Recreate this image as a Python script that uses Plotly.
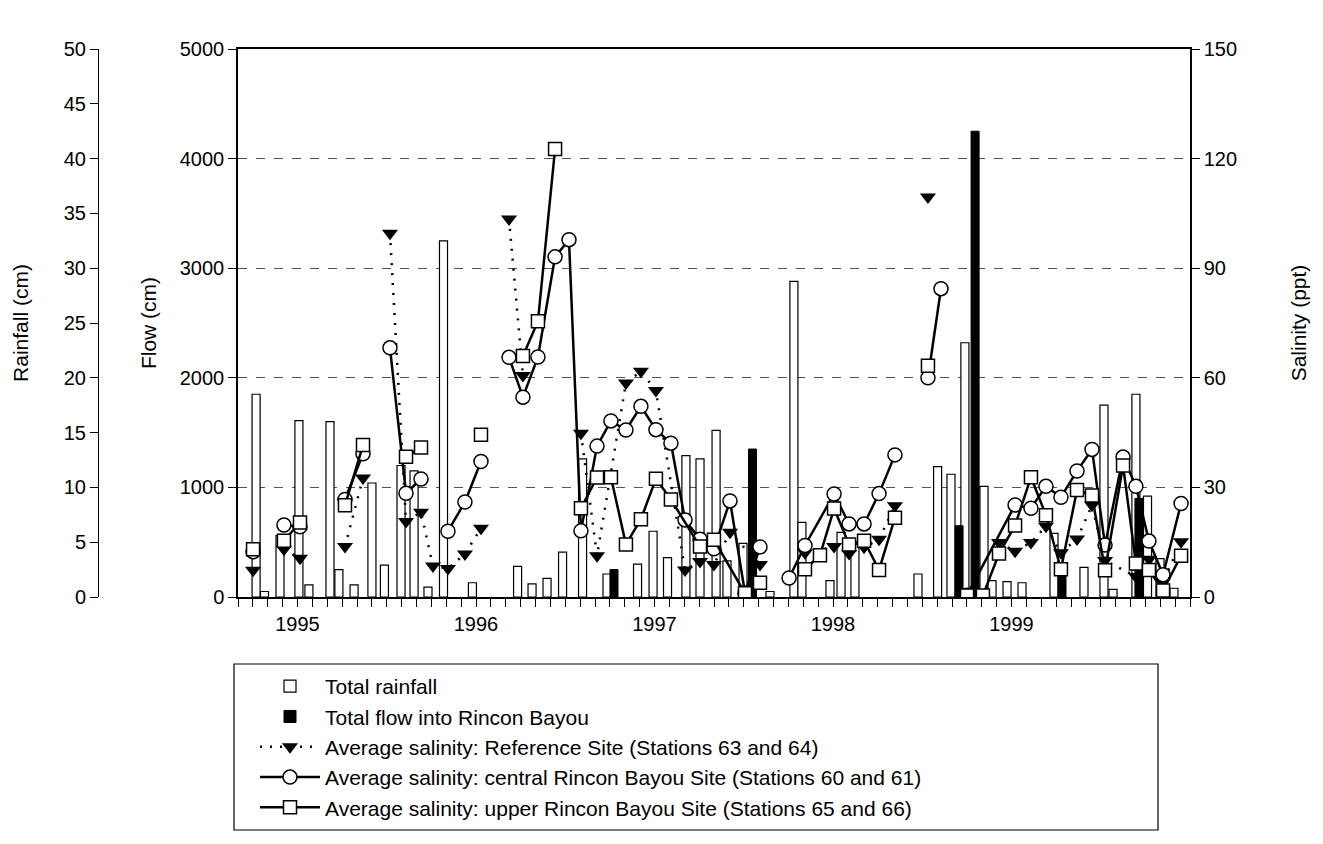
import plotly.graph_objects as go

# ---------------- data (time in decimal years) ----------------
rain_t = [1994.768, 1994.815, 1994.902, 1995.008, 1995.064, 1995.182, 1995.232, 1995.317,
          1995.417, 1995.487, 1995.580, 1995.653, 1995.731, 1995.818, 1995.980, 1996.233,
          1996.314, 1996.398, 1996.485, 1996.597, 1996.734, 1996.905, 1996.992, 1997.073,
          1997.176, 1997.255, 1997.345, 1997.406, 1997.496, 1997.647, 1997.781, 1997.826,
          1997.983, 1998.045, 1998.123, 1998.476, 1998.586, 1998.661, 1998.739, 1998.846,
          1998.891, 1998.975, 1999.059, 1999.238, 1999.406, 1999.518, 1999.569, 1999.697,
          1999.762, 1999.832, 1999.910]
rain_cm = [18.5, 0.5, 5.6, 16.1, 1.1, 16.0, 2.5, 1.1,
           10.4, 2.9, 12.0, 11.5, 0.9, 32.5, 1.3, 2.8,
           1.2, 1.7, 4.1, 12.6, 2.1, 3.0, 6.0, 3.6,
           12.9, 12.6, 15.2, 3.3, 4.9, 0.5, 28.8, 6.8,
           1.5, 5.9, 4.8, 2.1, 11.9, 11.2, 23.2, 10.1,
           1.5, 1.4, 1.3, 5.8, 2.7, 17.5, 0.7, 18.5,
           9.2, 3.5, 0.8]

flow_t = [1996.773, 1997.549, 1998.706, 1998.796, 1999.283, 1999.714]
flow_cm = [250, 1350, 650, 4250, 250, 900]

# Reference site (stations 63 and 64)
ref_t = [1994.751, None, 1994.924, 1995.014, None, 1995.266, 1995.367, None,
         1995.518, 1995.608, 1995.692, 1995.759, 1995.843, 1995.938, 1996.028, None,
         1996.185, 1996.263, None,
         1996.588, 1996.678, 1996.840, 1996.924, 1997.008, 1997.171, 1997.255, 1997.333,
         1997.423, 1997.591, None,
         1997.843, 1998.006, 1998.090, 1998.174, 1998.258, 1998.347, None,
         1998.532, None,
         1998.930, 1999.020, 1999.109, 1999.193, 1999.277, 1999.367, 1999.451, 1999.524,
         1999.697, 1999.770, 1999.849, 1999.950]
ref_sal = [7.3, None, 13.1, 10.6, None, 13.8, 32.6, None,
           99.6, 20.7, 23.2, 8.5, 7.8, 11.8, 18.8, None,
           103.5, 60.6, None,
           44.8, 11.3, 58.6, 61.8, 56.5, 7.4, 9.7, 8.9,
           17.7, 8.9, None,
           12.1, 13.8, 11.9, 13.6, 15.8, 25.0, None,
           109.5, None,
           14.9, 12.5, 14.9, 19.4, 12.1, 15.9, 25.1, 10.0,
           5.6, 10.3, 4.1, 15.1]

# central Rincon Bayou site (stations 60 and 61)
cen_t = [1994.751, None, 1994.924, 1995.014, None, 1995.266, 1995.367, None,
         1995.518, 1995.608, 1995.692, None, 1995.843, 1995.938, 1996.028, None,
         1996.185, 1996.263, 1996.347, 1996.443, 1996.521, 1996.588, 1996.678, 1996.756,
         1996.840, 1996.924, 1997.008, 1997.092, 1997.171, 1997.255, 1997.333, 1997.423,
         1997.507, 1997.591, None,
         1997.754, 1997.843, 1998.006, 1998.090, 1998.174, 1998.258, 1998.347, None,
         1998.532, 1998.605, None,
         1998.751, 1999.020, 1999.109, 1999.193, 1999.277, 1999.367, 1999.451, 1999.524,
         1999.625, 1999.697, 1999.770, 1999.849, 1999.950]
cen_sal = [12.4, None, 19.7, 19.2, None, 26.7, 39.2, None,
           68.2, 28.4, 32.3, None, 18.0, 26.0, 37.1, None,
           65.6, 54.7, 65.7, 93.1, 97.8, 18.1, 41.3, 48.2,
           45.7, 52.2, 45.8, 42.1, 21.1, 15.8, 13.2, 26.3,
           1.1, 13.7, None,
           5.2, 14.1, 28.2, 20.0, 20.0, 28.3, 38.9, None,
           60.0, 84.4, None,
           0.5, 25.2, 24.3, 30.3, 27.3, 34.5, 40.4, 14.2,
           38.3, 30.3, 15.3, 6.1, 25.6]

# upper Rincon Bayou site (stations 65 and 66)
upp_t = [1994.751, None, 1994.924, 1995.014, None, 1995.266, 1995.367, None,
         1995.608, 1995.692, None, 1996.028, None,
         1996.263, 1996.347, 1996.443, None,
         1996.588, 1996.678, 1996.756, 1996.840, 1996.924, 1997.008, 1997.092, 1997.255,
         1997.333, 1997.507, 1997.591, None,
         1997.843, 1997.927, 1998.006, 1998.090, 1998.174, 1998.258, 1998.347, None,
         1998.532, None,
         1998.751, 1998.840, 1998.930, 1999.020, 1999.109, 1999.193, 1999.277, 1999.367,
         1999.451, 1999.524, 1999.625, 1999.697, 1999.770, 1999.849, 1999.950]
upp_sal = [13.1, None, 15.4, 20.4, None, 25.1, 41.6, None,
           38.4, 40.9, None, 44.4, None,
           66.0, 75.5, 122.6, None,
           24.3, 32.7, 32.8, 14.4, 21.3, 32.4, 26.7, 13.8,
           15.7, 1.0, 3.9, None,
           7.6, 11.4, 24.2, 14.4, 15.4, 7.4, 21.7, None,
           63.3, None,
           0.4, 0.4, 11.9, 19.6, 32.8, 22.4, 7.6, 29.3,
           27.8, 7.3, 36.0, 9.2, 7.4, 1.8, 11.3]

year_ticks = [1995, 1996, 1997, 1998, 1999]
year_labels = ["1995", "1996", "1997", "1998", "1999"]

# ---------------- layout geometry (screen px; page body adds 8px) ----------------
W, H = 1323, 844
OFF = 8
FONT = "Liberation Sans, Arial, sans-serif"


def px_x(v):
    return (v - OFF) / W


def px_y(v):
    return 1 - (v - OFF) / H


L, R = 238, 1190          # plot area left/right on screen
TOP, BOT = 49, 597        # plot area top/bottom on screen

fig = go.Figure()

bar_w = 0.045
fig.add_trace(go.Bar(
    x=rain_t, y=rain_cm, width=bar_w, yaxis="y", name="Total rainfall",
    marker=dict(color="white", line=dict(color="black", width=1.2)),
))
fig.add_trace(go.Bar(
    x=flow_t, y=flow_cm, width=bar_w, yaxis="y2", name="Total flow into Rincon Bayou",
    marker=dict(color="black", line=dict(color="black", width=1)),
))
fig.add_trace(go.Scatter(
    x=ref_t, y=ref_sal, yaxis="y3", mode="lines+markers",
    name="Average salinity: Reference Site (Stations 63 and 64)",
    line=dict(color="black", width=2.5, dash="2px,8px"),
    marker=dict(symbol="triangle-down", size=14, color="black"),
))
fig.add_trace(go.Scatter(
    x=cen_t, y=cen_sal, yaxis="y3", mode="lines+markers",
    name="Average salinity: central Rincon Bayou Site (Stations 60 and 61)",
    line=dict(color="black", width=2.5),
    marker=dict(symbol="circle", size=14, color="white", line=dict(color="black", width=1.5)),
))
fig.add_trace(go.Scatter(
    x=upp_t, y=upp_sal, yaxis="y3", mode="lines+markers",
    name="Average salinity: upper Rincon Bayou Site (Stations 65 and 66)",
    line=dict(color="black", width=2.5),
    marker=dict(symbol="square", size=13, color="white", line=dict(color="black", width=1.5)),
))

tickfont = dict(family=FONT, size=20, color="black")
titlefont = dict(family=FONT, size=21, color="black")

fig.update_layout(
    width=W, height=H,
    margin=dict(l=0, r=0, t=0, b=0),
    paper_bgcolor="white", plot_bgcolor="white",
    barmode="overlay",
    font=dict(family=FONT, color="black"),
    xaxis=dict(
        domain=[px_x(L), px_x(R)], range=[1994.6667, 2000.0],
        tickmode="array", tickvals=year_ticks, ticktext=year_labels,
        ticks="outside", ticklen=8, tickwidth=1, tickcolor="black",
        minor=dict(dtick=1/12, tick0=1994.6667, ticks="outside", ticklen=8,
                   tickwidth=1, tickcolor="black", showgrid=False),
        showline=True, linecolor="black", linewidth=1.5, mirror=True,
        showgrid=False, zeroline=False, tickfont=tickfont, automargin=False,
        anchor="y",
    ),
    yaxis=dict(
        domain=[px_y(BOT), px_y(TOP)], range=[0, 50], dtick=5,
        anchor="free", position=px_x(98), side="left",
        ticks="outside", ticklen=8, tickcolor="black",
        showline=True, linecolor="black", linewidth=1,
        showgrid=False, zeroline=False, tickfont=tickfont, automargin=False,
        title=dict(text="Rainfall (cm)", font=titlefont, standoff=28),
    ),
    yaxis2=dict(
        overlaying="y", anchor="x", side="left", range=[0, 5000], dtick=1000,
        ticks="outside", ticklen=8, tickcolor="black",
        showline=True, linecolor="black", linewidth=1.5,
        showgrid=True, gridcolor="#555", gridwidth=1, griddash="dash",
        zeroline=False, tickfont=tickfont, automargin=False,
        title=dict(text="Flow (cm)", font=titlefont, standoff=17),
    ),
    yaxis3=dict(
        overlaying="y", anchor="x", side="right", range=[0, 150], dtick=30,
        ticks="outside", ticklen=8, tickcolor="black",
        showline=True, linecolor="black", linewidth=1.5,
        showgrid=False, zeroline=False, tickfont=tickfont, automargin=False,
        title=dict(text="Salinity (ppt)", font=titlefont, standoff=55),
    ),
    showlegend=True,
    legend=dict(
        x=px_x(255), y=px_y(666), xanchor="left", yanchor="top",
        font=dict(family=FONT, size=21, color="black"),
        bgcolor="rgba(0,0,0,0)", borderwidth=0,
        itemwidth=60, traceorder="normal", tracegroupgap=0,
    ),
    shapes=[dict(type="rect", xref="paper", yref="paper",
                 x0=px_x(234), x1=px_x(1158), y0=px_y(830), y1=px_y(664),
                 line=dict(color="black", width=1.2), fillcolor="rgba(0,0,0,0)")],
)

fig.write_html("out.html")
